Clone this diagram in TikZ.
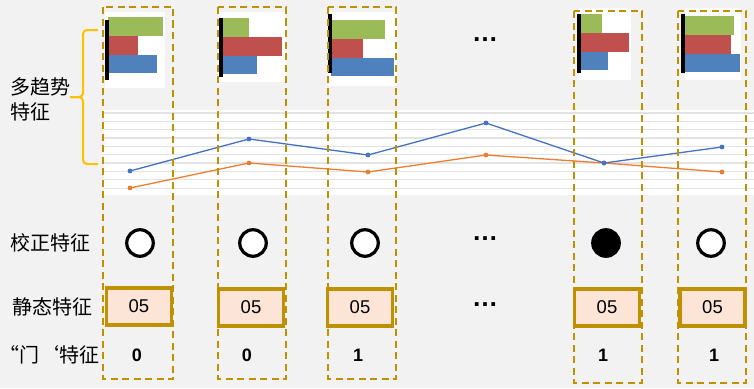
\documentclass[tikz,border=0pt]{standalone}
\usepackage{fontspec}
\setmainfont{Liberation Sans}
\newfontfamily\cjk{Noto Sans CJK SC}
\usepackage{xcolor}
\usepackage{tikz}
\usetikzlibrary{positioning}
\definecolor{bggray}{HTML}{F2F2F2}
\definecolor{gridgray}{HTML}{E3E3E3}
\definecolor{gold}{HTML}{BF9000}
\definecolor{peach}{HTML}{FCE4D6}
\definecolor{bracey}{HTML}{FFC000}
\definecolor{bargreen}{HTML}{9BBB59}
\definecolor{barred}{HTML}{C0504D}
\definecolor{barblue}{HTML}{4F81BD}
\definecolor{lineblue}{HTML}{4472C4}
\definecolor{lineorange}{HTML}{ED7D31}
\tikzstyle{colbox} = [gold, line width=2.2pt, dash pattern=on 7pt off 4.5pt]
\tikzstyle{rowlabel} = [anchor=west, inner sep=0pt, font=\cjk\fontsize{20}{24}\selectfont]
\tikzstyle{statbox} = [draw=gold, fill=peach, line width=3.2pt, minimum width=65pt, minimum height=37pt, inner sep=0pt, font=\fontsize{18.5}{20}\selectfont]
\tikzstyle{ring} = [circle, draw=black, fill=white, line width=3.2pt, minimum size=26.5pt, inner sep=0pt]
\tikzstyle{gate} = [inner sep=0pt, font=\bfseries\fontsize{18}{20}\selectfont]
\tikzstyle{more} = [inner sep=0pt, font=\bfseries\fontsize{26}{28}\selectfont]

\begin{document}
\begin{tikzpicture}[x=1pt, y=-1pt]
    \fill[bggray] (0,0) rectangle (754,388);
    \useasboundingbox (0,0) rectangle (754,388);

    % Line chart area
    \fill[white] (104,110) rectangle (754,195);
    \foreach \i in {0,...,9} {
        \draw[gridgray, line width=1.3pt] (104, 113+8.35*\i) -- (754, 113+8.35*\i);
    }

    % Bar charts
    \foreach \l/\t/\r/\b/\ax/\at/\ab/\top/\g/\rd/\bl in {
        105/12/165/88/105/20/80/17/163/138/157,
        218/12/286/82/219/18/77/18/249/282/257,
        328/12/397/86/328/14/73/20/385/363/394,
        579/8/631/80/577/14/73/14/602/629/608,
        685/8/741/80/681/14/73/16/734/731/740} {
        \fill[white] (\l,\t) rectangle (\r,\b);
        \fill[bargreen] (\ax+3,\top) rectangle (\g,\top+18.8);
        \fill[barred] (\ax+3,\top+18.8) rectangle (\rd,\top+37.6);
        \fill[barblue] (\ax+3,\top+37.6) rectangle (\bl,\top+56.4);
        \fill[black] (\ax,\at) rectangle (\ax+4,\ab);
    }

    % Trend lines
    \foreach \n/\x/\yb/\yo in {1/130/171/188, 2/249/139/163, 3/368/155/172, 4/486/123/155, 5/604/163/163, 6/722/147/172} {
        \coordinate (b\n) at (\x,\yb);
        \coordinate (o\n) at (\x,\yo);
    }
    \draw[lineorange, line width=1.3pt] (o1) -- (o2) -- (o3) -- (o4) -- (o5) -- (o6);
    \draw[lineblue, line width=1.3pt] (b1) -- (b2) -- (b3) -- (b4) -- (b5) -- (b6);
    \foreach \n in {1,...,6} {
        \fill[lineorange] (o\n) circle (2.4pt);
        \fill[lineblue] (b\n) circle (2.4pt);
    }

    % Time step columns
    \draw[colbox] (103,7) rectangle (173,379);
    \draw[colbox] (218,7) rectangle (286,379);
    \draw[colbox] (328,7) rectangle (396,379);
    \draw[colbox] (574,11) rectangle (642,383);
    \draw[colbox] (678,11) rectangle (746,383);

    % Brace
    \draw[bracey, line width=2pt, rounded corners=4pt] (98,30) -- (83,30) -- (83,97) -- (70,97);
    \draw[bracey, line width=2pt, rounded corners=4pt] (70,97) -- (83,97) -- (83,164) -- (98,164);

    % Row labels
    \node[rowlabel] (trend1) at (10,87) {多趋势};
    \node[rowlabel] (trend2) at (10,112) {特征};
    \node[rowlabel] (corr) at (10,243) {校正特征};
    \node[rowlabel] (stat) at (12,307) {静态特征};
    \node[rowlabel] (gatelbl) at (-1,355) {“门‘特征};

    % Correction flags
    \node[ring] (k1) at (140,243) {};
    \node[ring] (k2) at (253,243) {};
    \node[ring] (k3) at (365,243) {};
    \node[ring, fill=black] (k4) at (606,243) {};
    \node[ring] (k5) at (711,243) {};

    % Static features
    \node[statbox] (s1) at (139,306.5) {05};
    \node[statbox] (s2) at (251,307.5) {05};
    \node[statbox] (s3) at (360,307.5) {05};
    \node[statbox] (s4) at (607,307.5) {05};
    \node[statbox] (s5) at (712.5,307.5) {05};

    % Gate values
    \node[gate] (g1) at (137,355) {0};
    \node[gate] (g2) at (247,355) {0};
    \node[gate] (g3) at (358,355) {1};
    \node[gate] (g4) at (603,355) {1};
    \node[gate] (g5) at (714,355) {1};

    % Omitted steps
    \node[more] (m1) at (485,40) {…};
    \node[more] (m2) at (485,239) {…};
    \node[more] (m3) at (485,305) {…};
\end{tikzpicture}
\end{document}
